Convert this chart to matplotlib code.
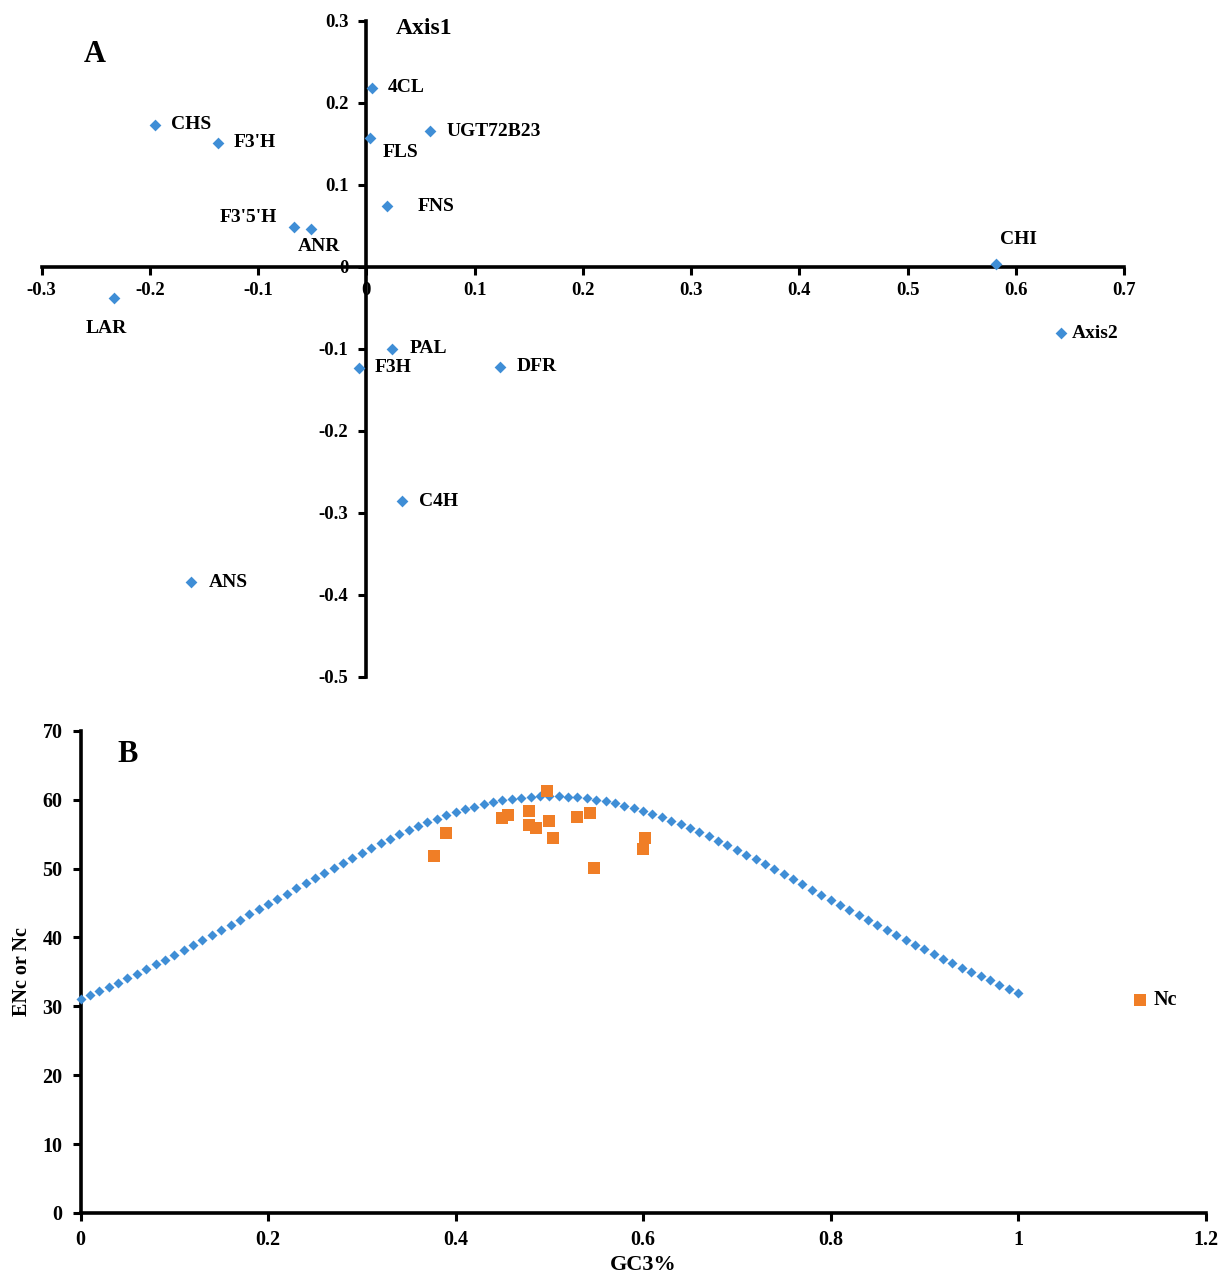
import matplotlib
matplotlib.use('Agg')
import matplotlib.pyplot as plt

plt.rcParams['font.family'] = ['Liberation Serif', 'DejaVu Serif']
plt.rcParams['font.weight'] = 'bold'
plt.rcParams['axes.unicode_minus'] = False

# ---------------- Panel A data ----------------
genes = ['CHS', "F3'H", '4CL', 'FLS', 'UGT72B23', 'FNS', "F3'5'H", 'ANR',
         'LAR', 'CHI', 'PAL', 'F3H', 'DFR', 'C4H', 'ANS']
axis2_vals = [-0.195, -0.137, 0.005, 0.003, 0.059, 0.019, -0.067, -0.051,
              -0.233, 0.582, 0.024, -0.007, 0.123, 0.033, -0.162]
axis1_vals = [0.173, 0.151, 0.218, 0.157, 0.165, 0.074, 0.048, 0.046,
              -0.038, 0.003, -0.100, -0.123, -0.122, -0.286, -0.385]
a_xticks = [-0.3, -0.2, -0.1, 0, 0.1, 0.2, 0.3, 0.4, 0.5, 0.6, 0.7]
a_xticklabels = ['-0.3', '-0.2', '-0.1', '0', '0.1', '0.2', '0.3', '0.4', '0.5', '0.6', '0.7']
a_yticks = [-0.5, -0.4, -0.3, -0.2, -0.1, 0, 0.1, 0.2, 0.3]
a_yticklabels = ['-0.5', '-0.4', '-0.3', '-0.2', '-0.1', '0', '0.1', '0.2', '0.3']

# label offsets (pixels) and alignment for each gene label
label_style = {
    'CHS': (16, 0, 'left'), "F3'H": (16, 0, 'left'), '4CL': (16, 0, 'left'),
    'FLS': (13, -15, 'left'), 'UGT72B23': (16, 0, 'left'), 'FNS': (31, 0, 'left'),
    "F3'5'H": (-17, 10, 'right'), 'ANR': (8, -18, 'center'), 'LAR': (-8, -31, 'center'),
    'CHI': (22, 25, 'center'), 'PAL': (17, 0, 'left'), 'F3H': (16, 0, 'left'),
    'DFR': (17, 0, 'left'), 'C4H': (17, 0, 'left'), 'ANS': (18, 0, 'left'),
}

# ---------------- Panel B data ----------------
gc3_expected = [0.00, 0.01, 0.02, 0.03, 0.04, 0.05, 0.06, 0.07, 0.08, 0.09,
                0.10, 0.11, 0.12, 0.13, 0.14, 0.15, 0.16, 0.17, 0.18, 0.19,
                0.20, 0.21, 0.22, 0.23, 0.24, 0.25, 0.26, 0.27, 0.28, 0.29,
                0.30, 0.31, 0.32, 0.33, 0.34, 0.35, 0.36, 0.37, 0.38, 0.39,
                0.40, 0.41, 0.42, 0.43, 0.44, 0.45, 0.46, 0.47, 0.48, 0.49,
                0.50, 0.51, 0.52, 0.53, 0.54, 0.55, 0.56, 0.57, 0.58, 0.59,
                0.60, 0.61, 0.62, 0.63, 0.64, 0.65, 0.66, 0.67, 0.68, 0.69,
                0.70, 0.71, 0.72, 0.73, 0.74, 0.75, 0.76, 0.77, 0.78, 0.79,
                0.80, 0.81, 0.82, 0.83, 0.84, 0.85, 0.86, 0.87, 0.88, 0.89,
                0.90, 0.91, 0.92, 0.93, 0.94, 0.95, 0.96, 0.97, 0.98, 0.99,
                1.00]
enc_expected = [31.00, 31.60, 32.20, 32.82, 33.45, 34.09, 34.75, 35.41, 36.09, 36.77,
                37.47, 38.17, 38.88, 39.61, 40.34, 41.08, 41.82, 42.57, 43.33, 44.09,
                44.85, 45.61, 46.37, 47.14, 47.89, 48.65, 49.40, 50.14, 50.87, 51.59,
                52.30, 52.99, 53.67, 54.32, 54.95, 55.56, 56.14, 56.70, 57.22, 57.71,
                58.17, 58.59, 58.97, 59.32, 59.62, 59.88, 60.09, 60.26, 60.39, 60.47,
                60.50, 60.49, 60.43, 60.32, 60.17, 59.98, 59.74, 59.46, 59.13, 58.77,
                58.37, 57.93, 57.46, 56.96, 56.42, 55.86, 55.27, 54.66, 54.03, 53.37,
                52.70, 52.01, 51.31, 50.60, 49.88, 49.15, 48.41, 47.68, 46.93, 46.19,
                45.45, 44.71, 43.97, 43.23, 42.50, 41.78, 41.06, 40.35, 39.64, 38.95,
                38.27, 37.59, 36.93, 36.27, 35.63, 34.99, 34.37, 33.76, 33.16, 32.58,
                32.00]
nc_gc3 = [0.498, 0.450, 0.456, 0.478, 0.478, 0.486, 0.500, 0.504, 0.530, 0.543,
          0.390, 0.377, 0.548, 0.602, 0.600]
nc_vals = [61.3, 57.4, 57.8, 58.3, 56.3, 55.9, 56.9, 54.4, 57.5, 58.0,
           55.2, 51.8, 50.1, 54.4, 52.8]
b_xticks = [0, 0.2, 0.4, 0.6, 0.8, 1.0, 1.2]
b_xticklabels = ['0', '0.2', '0.4', '0.6', '0.8', '1', '1.2']
b_yticks = [0, 10, 20, 30, 40, 50, 60, 70]

BLUE = '#3F8ED6'
ORANGE = '#F07E26'
W, H = 1220, 1273

fig = plt.figure(figsize=(W / 100, H / 100), dpi=100)
fig.patch.set_facecolor('white')

# ---------------- Panel A ----------------
axA = fig.add_axes([41.7 / W, 1 - 676.7 / H, (1124 - 41.7) / W, (676.7 - 20.7) / H])
axA.set_xlim(-0.3, 0.7)
axA.set_ylim(-0.5, 0.3)
axA.spines['left'].set_position(('data', 0))
axA.spines['bottom'].set_position(('data', 0))
axA.spines['top'].set_visible(False)
axA.spines['right'].set_visible(False)
for s in ('left', 'bottom'):
    axA.spines[s].set_linewidth(2.6)
    axA.spines[s].set_zorder(2)
axA.set_xticks(a_xticks)
axA.set_xticklabels(a_xticklabels)
axA.set_yticks(a_yticks)
axA.set_yticklabels(a_yticklabels)
axA.tick_params(axis='x', direction='out', length=6, width=2.2, labelsize=13.5, pad=5)
axA.tick_params(axis='y', direction='out', length=6, width=2.2, labelsize=13.5, pad=7)
axA.patch.set_alpha(0)

axA.scatter(axis2_vals, axis1_vals, marker='D', s=36, color=BLUE, linewidths=0,
            zorder=4, clip_on=False, label='Axis2')
for g, xv, yv in zip(genes, axis2_vals, axis1_vals):
    dx, dy, ha = label_style[g]
    axA.annotate(g, (xv, yv), xytext=(dx, dy), textcoords='offset pixels',
                 ha=ha, va='center', fontsize=14, fontweight='bold', zorder=5)

axA.legend(loc='center left', bbox_to_anchor=(1053.5 / W, 1 - 333 / H),
           bbox_transform=fig.transFigure, frameon=False, handlelength=0.75,
           handletextpad=0.2, borderpad=0, borderaxespad=0, fontsize=14,
           scatterpoints=1)
fig.text(424 / W, 1 - 29 / H, 'Axis1', ha='center', va='center', fontsize=17, fontweight='bold')
fig.text(95 / W, 1 - 55 / H, 'A', ha='center', va='center', fontsize=22, fontweight='bold')

# ---------------- Panel B ----------------
axB = fig.add_axes([80.5 / W, 1 - 1213 / H, (1205.5 - 80.5) / W, (1213 - 730.7) / H])
axB.set_xlim(0, 1.2)
axB.set_ylim(0, 70)
axB.spines['top'].set_visible(False)
axB.spines['right'].set_visible(False)
for s in ('left', 'bottom'):
    axB.spines[s].set_linewidth(2.6)
axB.set_xticks(b_xticks)
axB.set_xticklabels(b_xticklabels)
axB.set_yticks(b_yticks)
axB.tick_params(axis='both', direction='out', length=6, width=2.2, labelsize=14.5)
axB.tick_params(axis='x', pad=6)
axB.tick_params(axis='y', pad=7)

axB.scatter(gc3_expected, enc_expected, marker='D', s=26, color=BLUE, linewidths=0,
            zorder=3, clip_on=False)
axB.scatter(nc_gc3, nc_vals, marker='s', s=80, color=ORANGE, linewidths=0,
            zorder=4, label='Nc')
axB.legend(loc='center left', bbox_to_anchor=(1132.5 / W, 1 - 1000 / H),
           bbox_transform=fig.transFigure, frameon=False, handlelength=0.75,
           handletextpad=0.3, borderpad=0, borderaxespad=0, fontsize=14.5,
           scatterpoints=1)

fig.text(22 / W, 1 - 972 / H, 'ENc or Nc', rotation=90, ha='center', va='center',
         fontsize=14.5, fontweight='bold')
fig.text(643 / W, 1 - 1265 / H, 'GC3%', ha='center', va='center', fontsize=16,
         fontweight='bold')
fig.text(128 / W, 1 - 755 / H, 'B', ha='center', va='center', fontsize=22, fontweight='bold')

fig.savefig('out.png', dpi=100, facecolor='white')
